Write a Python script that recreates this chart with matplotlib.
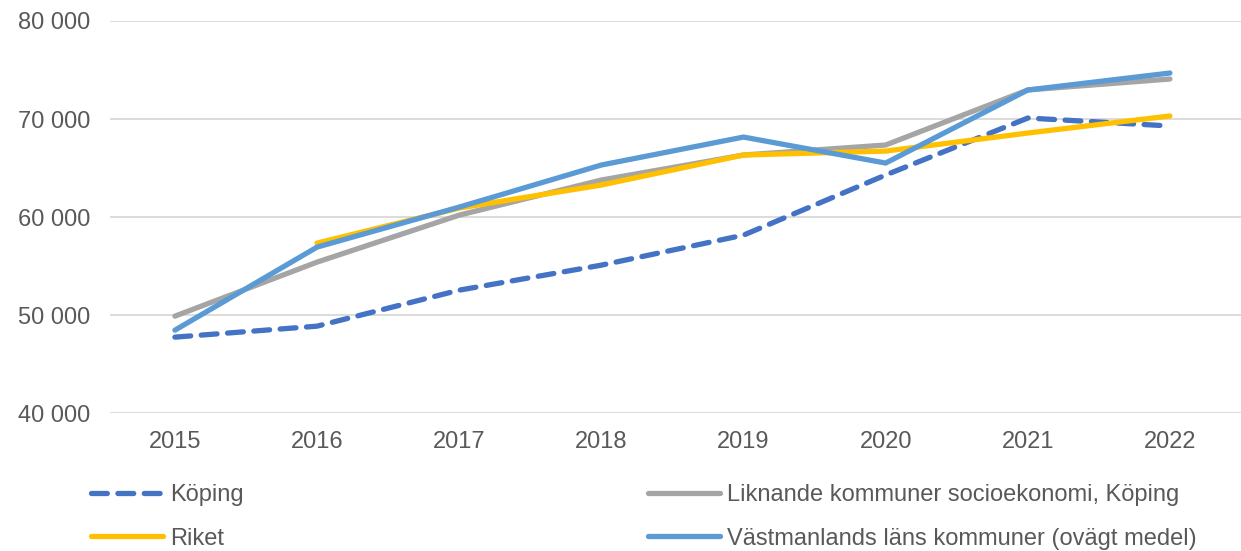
import numpy as np
import matplotlib.pyplot as plt
from matplotlib.ticker import FuncFormatter

plt.rcParams['font.family'] = ['Liberation Sans', 'DejaVu Sans']

years = ['2015', '2016', '2017', '2018', '2019', '2020', '2021', '2022']
koping = [47760, 48880, 52550, 55100, 58160, 64290, 70100, 69290]
liknande = [49900, 55410, 60200, 63780, 66330, 67350, 72960, 74080]
riket = [np.nan, 57350, 60920, 63270, 66330, 66730, 68570, 70310]
vastmanland = [48470, 56940, 61020, 65310, 68160, 65510, 72960, 74690]

x = np.arange(len(years))
text_col = '#595959'

fig = plt.figure(figsize=(12.41, 5.51), dpi=100)
ax = fig.add_axes([0.0886, 0.25, 0.9114, 0.712])

l1, = ax.plot(x, koping, color='#4472C4', lw=3.8, dashes=(3.0, 2.0),
              dash_capstyle='round', label='Köping')
l2, = ax.plot(x, liknande, color='#A5A5A5', lw=3.8, solid_capstyle='round',
              label='Liknande kommuner socioekonomi, Köping')
l3, = ax.plot(x, riket, color='#FFC000', lw=3.8, solid_capstyle='round', label='Riket')
l4, = ax.plot(x, vastmanland, color='#5B9BD5', lw=3.8, solid_capstyle='round',
              label='Västmanlands läns kommuner (ovägt medel)')

ax.set_xlim(-0.457, len(years) - 0.5)
ax.set_ylim(40000, 80000)
ax.set_yticks([40000, 50000, 60000, 70000, 80000])
ax.yaxis.set_major_formatter(FuncFormatter(lambda v, p: f'{int(v):,}'.replace(',', ' ')))
ax.set_xticks(x)
ax.set_xticklabels(years)
ax.grid(axis='y', color='#D9D9D9', lw=1.3)
ax.set_axisbelow(True)
for s in ax.spines.values():
    s.set_visible(False)
ax.tick_params(length=0, labelsize=17, labelcolor=text_col)
ax.tick_params(axis='y', pad=14)
ax.tick_params(axis='x', pad=13)

fig.legend(handles=[l1, l3, l2, l4], loc='lower left', bbox_to_anchor=(0.056, -0.036),
           ncol=2, frameon=False, fontsize=17, labelcolor=text_col,
           handlelength=3.05, handletextpad=0.3, columnspacing=17.15, labelspacing=0.9)

fig.savefig('out.png', dpi=100)
